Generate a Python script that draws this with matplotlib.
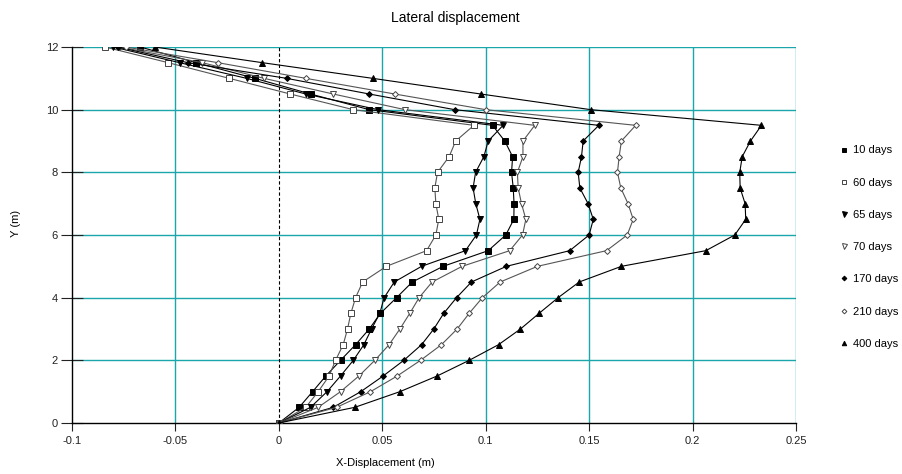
import matplotlib.pyplot as plt
from matplotlib.lines import Line2D

plt.rcParams['font.family'] = ['Liberation Sans', 'DejaVu Sans']

# depth levels (m)
y = [0, 0.5, 1, 1.5, 2, 2.5, 3, 3.5, 4, 4.5, 5, 5.5, 6, 6.5, 7, 7.5, 8, 8.5, 9, 9.5,
     10, 10.5, 11, 11.5, 12]

# lateral displacement (m) per stage
d10 = [0, 0.0098, 0.0163, 0.0227, 0.0298, 0.0371, 0.0437, 0.0491, 0.0569, 0.0645, 0.0794,
       0.1012, 0.1097, 0.1136, 0.1137, 0.1133, 0.1125, 0.113, 0.1092, 0.1033,
       0.0437, 0.0153, -0.0116, -0.040, -0.067]
d60 = [0, 0.013, 0.019, 0.0243, 0.0274, 0.0311, 0.0332, 0.0348, 0.0371, 0.0405, 0.052,
       0.0714, 0.0759, 0.0773, 0.0759, 0.0754, 0.0767, 0.0823, 0.0855, 0.0943,
       0.036, 0.0055, -0.024, -0.0535, -0.084]
d65 = [0, 0.0153, 0.0233, 0.0298, 0.036, 0.0411, 0.0448, 0.0488, 0.0509, 0.0558, 0.069,
       0.0902, 0.0955, 0.0972, 0.0952, 0.0939, 0.0951, 0.0991, 0.1012, 0.1084,
       0.048, 0.013, -0.0156, -0.048, -0.080]
d70 = [0, 0.019, 0.0298, 0.0387, 0.0464, 0.0533, 0.0585, 0.0633, 0.0678, 0.0741, 0.0886,
       0.1116, 0.1178, 0.1194, 0.1173, 0.1157, 0.1153, 0.118, 0.118, 0.1237,
       0.061, 0.0263, -0.0072, -0.037, -0.077]
d170 = [0, 0.0263, 0.0396, 0.0504, 0.0604, 0.069, 0.0749, 0.0797, 0.0859, 0.0931, 0.110,
        0.1406, 0.150, 0.152, 0.1495, 0.1455, 0.1447, 0.1463, 0.1471, 0.1547,
        0.085, 0.0437, 0.0037, -0.044, -0.078]
d210 = [0, 0.0279, 0.0443, 0.0572, 0.0685, 0.0786, 0.0862, 0.092, 0.0984, 0.107, 0.125,
        0.1584, 0.1684, 0.1713, 0.1688, 0.1653, 0.1637, 0.1645, 0.1656, 0.1725,
        0.100, 0.056, 0.013, -0.0295, -0.074]
d400 = [0, 0.0367, 0.0585, 0.0765, 0.092, 0.1062, 0.1168, 0.1258, 0.135, 0.1452, 0.1656,
        0.2064, 0.2204, 0.2257, 0.2254, 0.223, 0.2228, 0.224, 0.228, 0.2333,
        0.1508, 0.0976, 0.0453, -0.008, -0.060]

labels = ['10 days', '60 days', '65 days', '70 days', '170 days', '210 days', '400 days']
series = [d10, d60, d65, d70, d170, d210, d400]
markers = ['s', 's', 'v', 'v', 'D', 'D', '^']
filled = [True, False, True, False, True, False, True]
sizes = [4, 4, 4.5, 4.5, 3, 3, 4]

grid_c = '#1aa6aa'

fig = plt.figure(figsize=(9.03, 4.74), dpi=100)
ax = fig.add_axes([72 / 903, 1 - 423 / 474, 724 / 903, 376 / 474])

# grid
for gx in [-0.05, 0.05, 0.1, 0.15, 0.2, 0.25]:
    ax.axvline(gx, color=grid_c, lw=1.0, zorder=1)
for gy in [2, 4, 6, 8, 10, 12]:
    ax.axhline(gy, color=grid_c, lw=1.0, zorder=1)
ax.axvline(0, color='black', lw=0.8, ls=(0, (3, 2)), zorder=1)

handles = []
for lab, d, m, f, s in zip(labels, series, markers, filled, sizes):
    lc = 'black' if f else '#555555'
    mfc = 'black' if f else 'white'
    mec = 'black' if f else '#444444'
    ax.plot(d, y, color=lc, lw=0.8, marker=m, ms=s, mfc=mfc, mec=mec,
            mew=0.7, zorder=3)
    # legend shows the marker alone
    handles.append(Line2D([], [], ls='none', marker=m, ms=s * 0.8, mfc=mfc,
                          mec=mec, mew=0.7, label=lab))

ax.set_xlim(-0.1, 0.25)
ax.set_ylim(0, 12)
ax.set_xticks([-0.1, -0.05, 0, 0.05, 0.1, 0.15, 0.2, 0.25])
ax.set_xticklabels(['-0.1', '-0.05', '0', '0.05', '0.1', '0.15', '0.2', '0.25'])
ax.set_yticks([0, 2, 4, 6, 8, 10, 12])
ax.set_yticklabels(['0', '2', '4', '6', '8', '10', '12'])
ax.tick_params(axis='both', labelsize=8, colors='#222222', width=0.8)
ax.tick_params(axis='x', direction='out', length=6, pad=3)
ax.tick_params(axis='y', direction='inout', length=16, pad=2)
for sp in ['top', 'right']:
    ax.spines[sp].set_visible(False)
for sp in ['left', 'bottom']:
    ax.spines[sp].set_linewidth(1.0)
    ax.spines[sp].set_color('black')

fig.text(455 / 903, 1 - 18 / 474, 'Lateral displacement', ha='center', va='center',
         fontsize=10)
fig.text(385 / 903, 1 - 463 / 474, 'X-Displacement (m)', ha='center', va='center',
         fontsize=8)
fig.text(16 / 903, 1 - 223 / 474, 'Y (m)', ha='center', va='center', rotation=90,
         fontsize=8)

fig.legend(handles=handles, loc='upper left', bbox_to_anchor=(836 / 903, 1 - 141 / 474),
           frameon=False, fontsize=8, handlelength=0.6, handletextpad=0.5,
           labelspacing=2.0, borderaxespad=0, numpoints=1)

fig.savefig('out.png', dpi=100)
